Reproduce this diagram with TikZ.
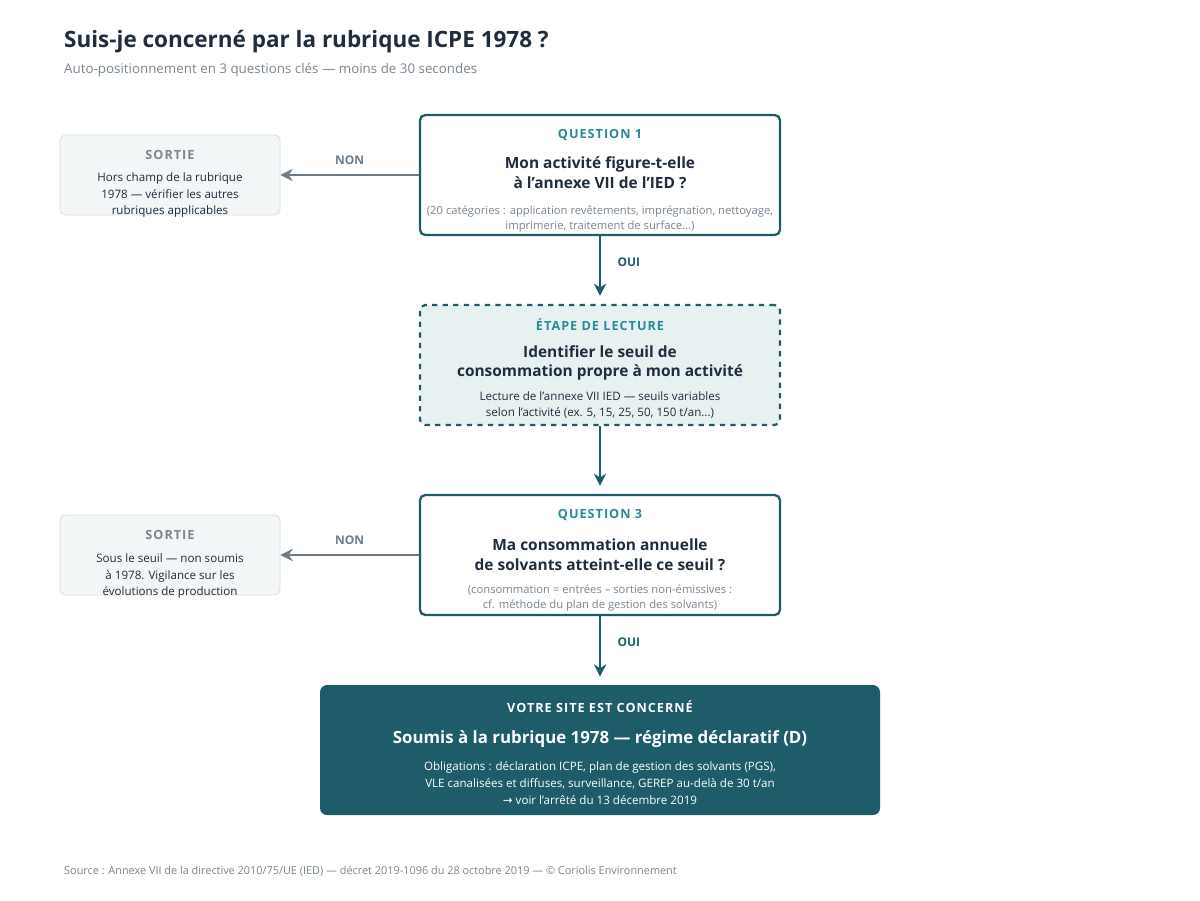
\documentclass[tikz,border=0pt]{standalone}
\usepackage{fontspec}
\setmainfont{Open Sans}
\newfontfamily\symfont{DejaVu Sans}
\usetikzlibrary{arrows.meta,positioning}
\definecolor{ink}{HTML}{1F2D3D}
\definecolor{teal}{HTML}{1D5C68}
\definecolor{tealtxt}{HTML}{2A8A96}
\definecolor{greytxt}{HTML}{7A8690}
\definecolor{pale}{HTML}{F3F6F7}
\definecolor{palet}{HTML}{E8F1F2}
\definecolor{edgegrey}{HTML}{6E7C86}
\tikzset{>={Stealth[length=7pt,width=7pt]}}
\tikzset{
  box/.style={draw=teal,line width=1.3pt,rounded corners=3pt,fill=white,minimum width=360*0.02cm,minimum height=120*0.02cm,inner sep=0pt},
  readbox/.style={box,dashed,fill=palet},
  exitbox/.style={draw=pale!80!gray,line width=0.5pt,rounded corners=3pt,fill=pale,minimum width=220*0.02cm,minimum height=80*0.02cm,inner sep=0pt},
  final/.style={rounded corners=4pt,fill=teal,minimum width=560*0.02cm,minimum height=130*0.02cm,inner sep=0pt},
  kicker/.style={font=\bfseries\fontsize{7.2}{9}\selectfont\addfontfeature{LetterSpace=8},text=tealtxt},
  head/.style={font=\bfseries\fontsize{8.8}{11.3}\selectfont,text=ink,align=center},
  note/.style={font=\fontsize{6.4}{8.6}\selectfont,text=greytxt,align=center},
  body/.style={font=\fontsize{6.6}{9.6}\selectfont,text=ink,align=center},
  lab/.style={font=\bfseries\fontsize{6.8}{8}\selectfont},
  yes/.style={->,draw=teal,line width=1.3pt},
  no/.style={->,draw=edgegrey,line width=0.9pt},
}
\begin{document}
\begin{tikzpicture}[x=0.02cm,y=-0.02cm]
  \useasboundingbox[fill=white] (0,0) rectangle (1200,900);
  % title
  \node[anchor=west,text=ink,font=\bfseries\fontsize{12.8}{15}\selectfont] (title) at (58,42) {Suis-je concerné par la rubrique ICPE 1978 ?};
  \node[anchor=west,text=greytxt,font=\fontsize{7.6}{9}\selectfont] (sub) at (58,70) {Auto-positionnement en 3 questions clés — moins de 30 secondes};

  % boxes
  \node[box]  (q1)  at (600,175) {};
  \node[readbox] (lec) at (600,365) {};
  \node[box]  (q3)  at (600,555) {};
  \node[exitbox] (s1) at (170,175) {};
  \node[exitbox] (s3) at (170,555) {};
  \node[final] (res) at (600,750) {};

  % question 1
  \node[kicker] at (600,135) {QUESTION 1};
  \node[head] at (600,173) {Mon activité figure-t-elle\\à l'annexe VII de l'IED ?};
  \node[note] at (600,219) {(20 catégories : application revêtements, imprégnation, nettoyage,\\imprimerie, traitement de surface...)};

  % lecture
  \node[kicker] at (600,325) {ÉTAPE DE LECTURE};
  \node[head] at (600,363) {Identifier le seuil de\\consommation propre à mon activité};
  \node[body] at (600,405) {Lecture de l'annexe VII IED — seuils variables\\selon l'activité (ex. 5, 15, 25, 50, 150 t/an...)};

  % question 3
  \node[kicker] at (600,515) {QUESTION 3};
  \node[head] at (600,555) {Ma consommation annuelle\\de solvants atteint-elle ce seuil ?};
  \node[note] at (600,598) {(consommation = entrées – sorties non-émissives :\\cf. méthode du plan de gestion des solvants)};

  % sorties
  \node[kicker,text=greytxt] at (170,155) {SORTIE};
  \node[body] at (170,195) {Hors champ de la rubrique\\1978 — vérifier les autres\\rubriques applicables};
  \node[kicker,text=greytxt] at (170,535) {SORTIE};
  \node[body] at (170,576) {Sous le seuil — non soumis\\à 1978. Vigilance sur les\\évolutions de production};

  % resultat
  \node[kicker,text=white] at (600,707) {VOTRE SITE EST CONCERNÉ};
  \node[head,text=white,font=\bfseries\fontsize{9.6}{12}\selectfont] at (600,739) {Soumis à la rubrique 1978 — régime déclaratif (D)};
  \node[body,text=white] at (600,783) {Obligations : déclaration ICPE, plan de gestion des solvants (PGS),\\VLE canalisées et diffuses, surveillance, GEREP au-delà de 30 t/an\\{\symfont →} voir l'arrêté du 13 décembre 2019};

  % connectors
  \draw[no] (q1.west) -- node[lab,text=edgegrey,above=2pt] {NON} (s1.east);
  \draw[no] (q3.west) -- node[lab,text=edgegrey,above=2pt] {NON} (s3.east);
  \draw[yes,shorten >=8*0.02cm] (q1.south) -- node[lab,text=teal,right=6pt,pos=0.38] {OUI} (lec.north);
  \draw[yes,shorten >=8*0.02cm] (lec.south) -- (q3.north);
  \draw[yes,shorten >=8*0.02cm] (q3.south) -- node[lab,text=teal,right=6pt,pos=0.38] {OUI} (res.north);

  \node[anchor=west,text=greytxt,font=\fontsize{6.2}{8}\selectfont] (src) at (58,871) {Source : Annexe VII de la directive 2010/75/UE (IED) — décret 2019-1096 du 28 octobre 2019 — © Coriolis Environnement};
\end{tikzpicture}
\end{document}
